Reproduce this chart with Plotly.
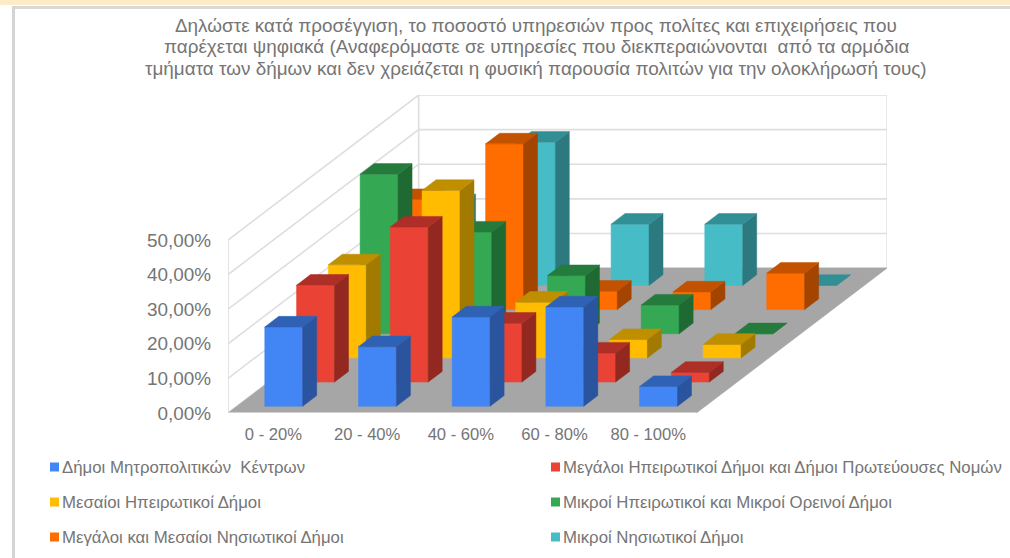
import plotly.graph_objects as go

W, H = 1010, 558
title_lines = [
    "Δηλώστε κατά προσέγγιση, το ποσοστό υπηρεσιών προς πολίτες και επιχειρήσεις που",
    "παρέχεται ψηφιακά (Αναφερόμαστε σε υπηρεσίες που διεκπεραιώνονται\u00a0 από τα αρμόδια",
    "τμήματα των δήμων και δεν χρειάζεται η φυσική παρουσία πολιτών για την ολοκλήρωσή τους)",
]
categories = ["0 - 20%", "20 - 40%", "40 - 60%", "60 - 80%", "80 - 100%"]
value_ticks = [0, 10, 20, 30, 40, 50]
value_labels = ["0,00%", "10,00%", "20,00%", "30,00%", "40,00%", "50,00%"]

metro = [22.9, 17.2, 25.8, 28.7, 5.7]
large_mainland = [28.0, 44.8, 17.0, 8.4, 2.8]
medium_mainland = [26.9, 48.4, 16.1, 5.3, 3.9]
small_mainland = [46.1, 29.4, 16.8, 8.3, 0.0]
large_island = [31.8, 47.9, 5.3, 5.1, 10.5]
small_island = [23.3, 41.4, 17.7, 17.7, 0.0]

names = [
    "Δήμοι Μητροπολιτικών\u00a0 Κέντρων",
    "Μεγάλοι Ηπειρωτικοί Δήμοι και Δήμοι Πρωτεύουσες Νομών",
    "Μεσαίοι Ηπειρωτικοί Δήμοι",
    "Μικροί Ηπειρωτικοί και Μικροί Ορεινοί Δήμοι",
    "Μεγάλοι και Μεσαίοι Νησιωτικοί Δήμοι",
    "Μικροί Νησιωτικοί Δήμοι",
]
series = [metro, large_mainland, medium_mainland, small_mainland, large_island, small_island]
front = ["#4285F4", "#EA4335", "#FFBC00", "#34A853", "#FF6D01", "#46BDC6"]
top = ["#2F62B5", "#AE2F27", "#BF8F00", "#257B3C", "#C25200", "#338F96"]
side = ["#2A549E", "#92281F", "#A37A00", "#1F6A33", "#A34500", "#2C7A80"]

DX, DY = 2.035, 41.9
BW, BD = 0.405, 0.44
N = len(series)
C = len(categories)
XMAX = (887 - 228) / 93.7
YMAX = (413 - 95) / 3.46
GRID = "#DEDEDE"
FLOOR = "#A6A6A6"
TXT = "#757575"

fig = go.Figure()


def poly(xs, ys, fill):
    fig.add_trace(go.Scatter(x=xs, y=ys, mode="lines", fill="toself", fillcolor=fill,
                             line=dict(color=fill, width=0.5), hoverinfo="skip", showlegend=False))


def seg(xs, ys):
    fig.add_trace(go.Scatter(x=xs, y=ys, mode="lines", line=dict(color=GRID, width=1.6),
                             hoverinfo="skip", showlegend=False))


for t in value_ticks:
    seg([0, DX, C + DX], [t, t + DY, t + DY])
seg([0, 0], [0, 50])
seg([DX, DX], [DY, 50 + DY])
seg([C + DX, C + DX], [DY, 50 + DY])
poly([0, C, C + DX, DX, 0], [0, 0, DY, DY, 0], FLOOR)
seg([0, C], [0, 0])

for s in reversed(range(N)):
    fx, fy, sx, sy, tx, ty = [], [], [], [], [], []
    for c, v in enumerate(series[s]):
        x0 = c + (1 - BW) / 2 + (s + (1 - BD) / 2) / N * DX
        y0 = (s + (1 - BD) / 2) / N * DY
        x1 = x0 + BW
        ddx = BD / N * DX
        ddy = BD / N * DY
        fx += [x0, x1, x1, x0, x0, None]
        fy += [y0, y0, y0 + v, y0 + v, y0, None]
        sx += [x1, x1 + ddx, x1 + ddx, x1, x1, None]
        sy += [y0, y0 + ddy, y0 + ddy + v, y0 + v, y0, None]
        tx += [x0, x1, x1 + ddx, x0 + ddx, x0, None]
        ty += [y0 + v, y0 + v, y0 + v + ddy, y0 + v + ddy, y0 + v, None]
    poly(fx, fy, front[s])
    poly(sx, sy, side[s])
    poly(tx, ty, top[s])

shapes = [
    dict(type="rect", xref="paper", yref="paper", x0=0, x1=1, y0=1 - 5 / H, y1=1,
         fillcolor="#FDEBC8", line_width=0, layer="below"),
    dict(type="rect", xref="paper", yref="paper", x0=12 / W, x1=1, y0=1 - 9 / H, y1=1 - 6 / H,
         fillcolor="#D9D9D9", line_width=0, layer="below"),
    dict(type="rect", xref="paper", yref="paper", x0=12 / W, x1=15 / W, y0=0, y1=1 - 6 / H,
         fillcolor="#D4D4D4", line_width=0, layer="below"),
]
annotations = []
for line, py in zip(title_lines, [26, 47, 68]):
    annotations.append(dict(xref="paper", yref="paper", x=536 / W, y=1 - py / H, xanchor="center", yanchor="middle",
                            text=line, showarrow=False,
                            font=dict(family="Liberation Sans", size=18.9, color=TXT)))
col_x = [52, 553]
row_y = [467, 502, 537]
for i, name in enumerate(names):
    px, py = col_x[i % 2], row_y[i // 2]
    shapes.append(dict(type="rect", xref="paper", yref="paper", x0=(px - 2) / W, x1=(px + 7) / W,
                       y0=1 - (py + 4.5) / H, y1=1 - (py - 4.5) / H, fillcolor=front[i], line_width=0))
    annotations.append(dict(xref="paper", yref="paper", x=(px + 8) / W, y=1 - py / H, xanchor="left",
                            yanchor="middle", text=name, showarrow=False,
                            font=dict(family="Liberation Sans", size=16.8, color=TXT)))

fig.update_layout(
    width=W, height=H, autosize=False, showlegend=False,
    margin=dict(l=0, r=0, t=0, b=0, autoexpand=False), paper_bgcolor="white", plot_bgcolor="white",
    xaxis=dict(domain=[228 / W, 887 / W], range=[0, XMAX], showgrid=False, zeroline=False, showline=False,
               tickmode="array", tickvals=[i + 0.485 for i in range(C)], ticktext=categories,
               ticks="", ticklabelstandoff=9, tickfont=dict(family="Liberation Sans", size=16.6, color=TXT)),
    yaxis=dict(domain=[(H - 413) / H, (H - 95) / H], range=[0, YMAX], showgrid=False, zeroline=False,
               showline=False, tickmode="array", tickvals=value_ticks, ticktext=value_labels,
               ticks="", ticklabelstandoff=16, tickfont=dict(family="Liberation Sans", size=18.9, color=TXT)),
    shapes=shapes, annotations=annotations,
)
fig.write_html("out.html", config=dict(displayModeBar=False),
               post_script="document.body.style.margin='0';document.body.style.overflow='hidden';")
